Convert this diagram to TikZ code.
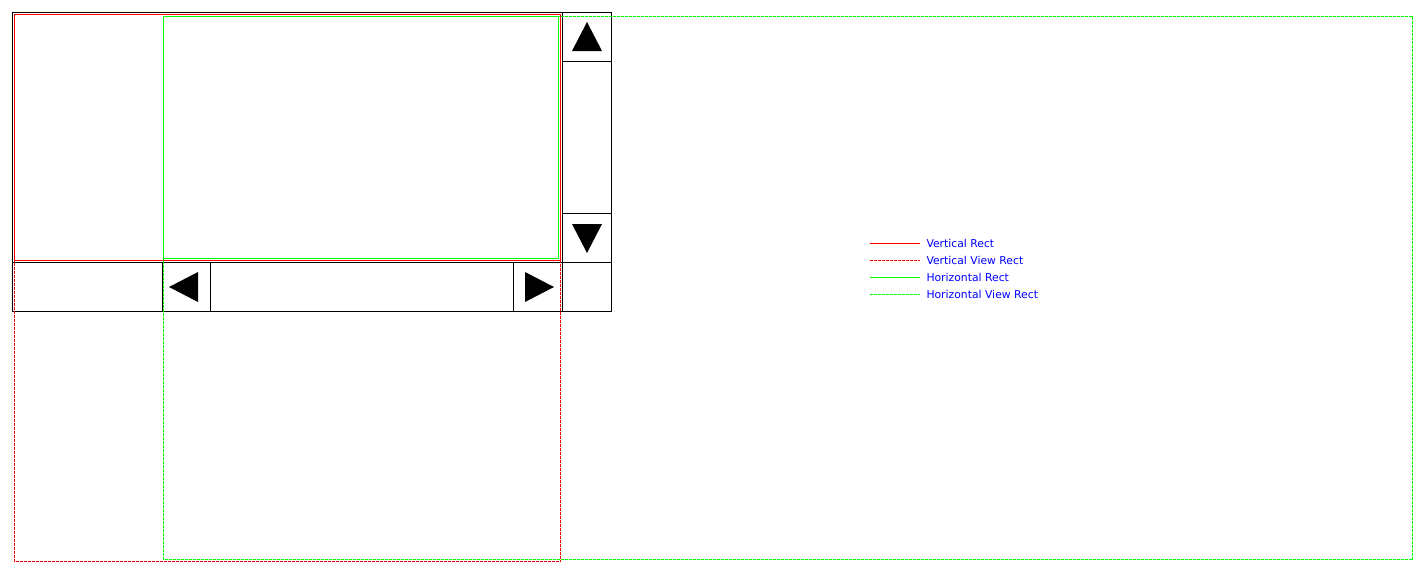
\documentclass[tikz,border=0pt]{standalone}
\usepackage{fontspec}
\newfontfamily\legendfont{DejaVu Sans}
\begin{document}
\begin{tikzpicture}[x=1pt,y=-1pt,line width=1pt,
	font=\legendfont\fontsize{10.8}{12}\selectfont,
	dotted line/.style={dash pattern=on 3pt off 1pt},
	arrowhead/.style={fill=black,draw=none}]
	\useasboundingbox (0,0) rectangle (1425,574);
	\path
	(12.5,12.5) coordinate (W)
	(611.5,311.5) coordinate (E)
	(562.5,262.5) coordinate (C)
	;
	% window frame and scrollbars
	\draw (W) rectangle (E);
	\draw (W|-C) -- (E|-C);
	\draw (C|-W) -- (C|-E);
	\foreach \y in {61.5,213.5}{
		\draw (562.5,\y) -- (611.5,\y);
	}
	\foreach \x in {162.5,210.5,513.5}{
		\draw (\x,262.5) -- (\x,311.5);
	}
	% arrow buttons
	\fill[arrowhead] (587,22) -- (572,51) -- (602,51) -- cycle;
	\fill[arrowhead] (572,224) -- (602,224) -- (587,253) -- cycle;
	\fill[arrowhead] (169,287) -- (198,272) -- (198,302) -- cycle;
	\fill[arrowhead] (525,272) -- (525,302) -- (554,287) -- cycle;
	% rects
	\draw[red,dotted line] (14.5,14.5) rectangle (560.5,561.5);
	\draw[green,dotted line] (163.5,16.5) rectangle (1412.5,559.5);
	\draw[red] (14.5,14.5) rectangle (560.5,260.5);
	\draw[green] (163.5,16.5) rectangle (558.5,258.5);
	% legend
	\foreach \y/\c/\d/\t [count=\i] in {243.5/red/solid/Vertical Rect,260.5/red/dotted line/Vertical View Rect,277.5/green/solid/Horizontal Rect,294.5/green/dotted line/Horizontal View Rect}{
		\path (870,\y) coordinate (l\i) (920,\y) coordinate (r\i);
		\draw[\c,\d] (l\i) -- (r\i);
		\node[anchor=base west,inner sep=0pt,text=blue] (key\i) at (926,\y+4) {\t};
	}
	\end{tikzpicture}
\end{document}
